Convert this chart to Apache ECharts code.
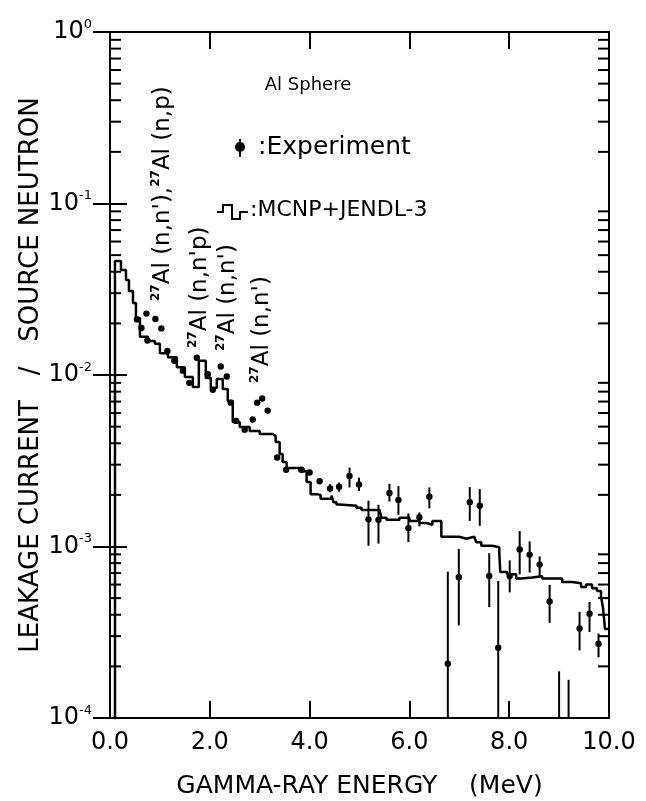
<!DOCTYPE html>
<html><head><meta charset="utf-8">
<script src="https://cdn.jsdelivr.net/npm/echarts@6/dist/echarts.min.js"></script>
<style>html,body{margin:0;padding:0;background:#fff}#c{width:646px;height:801px}</style>
</head><body><div id="c"></div>
<script>
// ---- axis definitions ----
const xMin = 0, xMax = 10, xStep = 2;
const yMin = 1e-4, yMax = 1;
const minorMultipliers = [2, 3, 4, 5, 6, 7, 8, 9];
const minorDecades = [1e-4, 1e-3, 1e-2, 1e-1];

// ---- MCNP+JENDL-3 histogram: left bin edge (MeV) and value ----
const mcnpE = [0.10, 0.10, 0.22, 0.32, 0.38, 0.46, 0.52, 0.60, 0.76, 0.90, 1.00, 1.16, 1.34, 1.50, 1.66, 1.78, 1.92, 2.02, 2.14, 2.26, 2.36, 2.46, 2.60, 2.80, 3.00, 3.26, 3.32, 3.40, 3.46, 3.54, 3.80, 3.94, 4.02, 4.14, 4.22, 4.44, 4.48, 4.54, 4.60, 4.94, 5.04, 5.40, 5.44, 5.54, 5.80, 6.00, 6.20, 6.34, 6.46, 6.64, 7.00, 7.14, 7.30, 7.34, 7.44, 7.66, 7.80, 7.82, 7.96, 8.14, 8.24, 8.46, 8.66, 8.86, 9.06, 9.26, 9.44, 9.54, 9.66, 9.76, 9.84, 9.88, 9.92, 10.0];
const mcnpV = [0.00001, 0.0462, 0.0409, 0.0358, 0.0309, 0.0263, 0.0215, 0.0167, 0.0158, 0.0152, 0.0134, 0.0127, 0.0111, 0.00973, 0.00851, 0.0121, 0.00961, 0.00840, 0.00948, 0.00828, 0.00705, 0.00532, 0.00498, 0.00471, 0.00453, 0.00441, 0.00407, 0.00346, 0.00311, 0.00287, 0.00275, 0.00238, 0.00202, 0.00200, 0.00190, 0.00198, 0.00181, 0.00176, 0.00173, 0.00168, 0.00163, 0.00161, 0.00147, 0.00143, 0.00147, 0.00141, 0.00137, 0.00134, 0.00141, 0.00114, 0.00111, 0.00114, 0.00112, 0.00106, 0.00101, 0.00099, 0.00094, 0.00071, 0.00069, 0.00065, 0.00066, 0.00067, 0.00065, 0.00065, 0.00062, 0.00061, 0.00058, 0.00060, 0.00057, 0.00055, 0.00051, 0.00044, 0.00033, 0.00033];

// ---- Experiment: energy, value, error-bar low / high (null = no bar drawn) ----
const expE = [0.54, 0.63, 0.73, 0.75, 0.91, 1.03, 1.15, 1.29, 1.46, 1.59, 1.74, 1.96, 2.06, 2.22, 2.34, 2.42, 2.53, 2.70, 2.86, 2.95, 3.05, 3.16, 3.35, 3.53, 3.84, 4.00, 4.20, 4.41, 4.59, 4.80, 4.99, 5.18, 5.38, 5.60, 5.78, 5.98, 6.20, 6.40, 6.77, 6.99, 7.21, 7.41, 7.60, 7.78, 8.01, 8.21, 8.41, 8.61, 8.81, 9.00, 9.19, 9.41, 9.61, 9.79];
const expV = [0.0211, 0.0188, 0.0228, 0.0159, 0.0212, 0.0187, 0.0138, 0.0121, 0.0106, 0.0090, 0.0126, 0.0101, 0.0082, 0.0112, 0.0098, 0.0069, 0.0054, 0.0048, 0.0055, 0.0069, 0.0073, 0.0062, 0.0033, 0.0028, 0.0028, 0.0027, 0.0024, 0.00218, 0.00223, 0.00258, 0.00230, 0.00144, 0.00143, 0.00205, 0.00187, 0.00128, 0.00148, 0.00195, 0.000207, 0.000662, 0.00181, 0.00173, 0.000674, 0.000257, 0.000672, 0.000961, 0.000897, 0.000784, 0.000478, 0.00007, 0.00006, 0.000333, 0.000406, 0.000271];
const expLo = [null, null, null, null, null, null, null, null, null, null, null, null, null, null, null, null, null, null, null, null, null, null, null, null, null, null, null, 0.00207, 0.00209, 0.00221, 0.00211, 0.00101, 0.00104, 0.00183, 0.00153, 0.00106, 0.00131, 0.00167, 0.00001, 0.000346, 0.00141, 0.00132, 0.000443, 0.00001, 0.000540, 0.000687, 0.000705, 0.000669, 0.000359, 0.00001, 0.00001, 0.000248, 0.000317, 0.000226];
const expHi = [null, null, null, null, null, null, null, null, null, null, null, null, null, null, null, null, null, null, null, null, null, null, null, null, null, null, null, 0.00231, 0.00236, 0.00288, 0.00252, 0.00185, 0.00175, 0.00232, 0.00225, 0.00156, 0.00158, 0.00221, 0.000713, 0.000968, 0.00222, 0.00216, 0.000914, 0.000629, 0.000830, 0.00123, 0.00107, 0.000875, 0.000598, 0.000187, 0.000167, 0.000416, 0.000475, 0.000311];

// ---- texts ----
const xTitle = 'GAMMA-RAY ENERGY    (MeV)';
const yTitle = 'LEAKAGE CURRENT   /   SOURCE NEUTRON';
const legendTitle = 'Al Sphere';
const legendExp = ':Experiment';
const legendMcnp = ':MCNP+JENDL-3';
const annotations = [
  {parts: [['27', "Al (n,n'),"], ['27', 'Al (n,p)']], x: 163, y: 301},
  {parts: [['27', "Al (n,n'p)"]], x: 200, y: 348},
  {parts: [['27', "Al (n,n')"]], x: 228, y: 351},
  {parts: [['27', "Al (n,n')"]], x: 262, y: 383}
];

const F = 'DejaVu Sans';
const BLACK = '#000';
const minorData = [];
minorDecades.forEach(d => minorMultipliers.forEach(m => minorData.push([0, d * m])));

const chart = echarts.init(document.getElementById('c'), null, {renderer: 'canvas'});

function renderMinor(params, api) {
  const cs = params.coordSys;
  const p = api.coord([api.value(0), api.value(1)]);
  const len = 11;
  return {type: 'group', children: [
    {type: 'line', shape: {x1: cs.x, y1: p[1], x2: cs.x + len, y2: p[1]}, style: {stroke: BLACK, lineWidth: 2}},
    {type: 'line', shape: {x1: cs.x + cs.width - len, y1: p[1], x2: cs.x + cs.width, y2: p[1]}, style: {stroke: BLACK, lineWidth: 2}}
  ]};
}

function renderExp(params, api) {
  const i = params.dataIndex;
  const cs = params.coordSys;
  const top = cs.y, bot = cs.y + cs.height;
  const clampY = y => Math.max(top, Math.min(bot, y));
  const p = api.coord([expE[i], expV[i]]);
  const ch = [];
  if (expLo[i] != null && expHi[i] != null) {
    const a = api.coord([expE[i], expLo[i]]);
    const b = api.coord([expE[i], expHi[i]]);
    ch.push({type: 'line', shape: {x1: p[0], y1: clampY(a[1]), x2: p[0], y2: clampY(b[1])}, style: {stroke: BLACK, lineWidth: 2}});
  }
  if (p[1] <= bot && p[1] >= top) {
    ch.push({type: 'circle', shape: {cx: p[0], cy: p[1], r: 3.2}, style: {fill: BLACK}});
  }
  return {type: 'group', children: ch};
}

const tickStyle = {show: true, inside: true, length: 17, lineStyle: {color: BLACK, width: 2}};

const graphics = [];
annotations.forEach(a => {
  let txt = '';
  a.parts.forEach(p => { txt += '{s|' + p[0] + '}{b|' + p[1] + '}'; });
  graphics.push({
    type: 'text', x: a.x, y: a.y, rotation: Math.PI / 2, z: 10,
    style: {
      text: txt, align: 'left', verticalAlign: 'middle', fill: BLACK,
      fontFamily: F, fontSize: 23,
      rich: {
        s: {fontSize: 12, fontFamily: F, fontWeight: 'bold', fill: BLACK, verticalAlign: 'top', lineHeight: 26},
        b: {fontSize: 23, fontFamily: F, fill: BLACK, lineHeight: 26}
      }
    }
  });
});
graphics.push(
  {type: 'text', x: 308, y: 85, z: 10, style: {text: legendTitle, align: 'center', verticalAlign: 'middle', fontFamily: F, fontSize: 18, fill: BLACK}},
  {type: 'line', z: 10, shape: {x1: 240, y1: 139, x2: 240, y2: 157}, style: {stroke: BLACK, lineWidth: 2}},
  {type: 'circle', z: 10, shape: {cx: 240, cy: 147, r: 5}, style: {fill: BLACK}},
  {type: 'text', x: 258, y: 147, z: 10, style: {text: legendExp, align: 'left', verticalAlign: 'middle', fontFamily: F, fontSize: 25, fill: BLACK}},
  {type: 'polyline', z: 10, shape: {points: [[217, 212], [223, 212], [223, 205], [232, 205], [232, 219], [240, 219], [240, 212], [248, 212]]}, style: {stroke: BLACK, lineWidth: 2, fill: null}},
  {type: 'text', x: 250, y: 210, z: 10, style: {text: legendMcnp, align: 'left', verticalAlign: 'middle', fontFamily: F, fontSize: 22, fill: BLACK}}
);

const option = {
  backgroundColor: '#fff',
  animation: false,
  grid: {left: 110, right: 37, top: 32, bottom: 83, show: true, borderColor: BLACK, borderWidth: 2, backgroundColor: 'transparent', containLabel: false, outerBoundsMode: 'none'},
  xAxis: [
    {
      type: 'value', min: xMin, max: xMax, interval: xStep, position: 'bottom',
      axisLine: {show: false}, axisTick: tickStyle, splitLine: {show: false},
      axisLabel: {color: BLACK, fontFamily: F, fontSize: 24, margin: 13, formatter: v => v.toFixed(1)},
      name: xTitle, nameLocation: 'middle', nameGap: 56, nameMoveOverlap: false,
      nameTextStyle: {color: BLACK, fontFamily: F, fontSize: 25}
    },
    {
      type: 'value', min: xMin, max: xMax, interval: xStep, position: 'top',
      axisLine: {show: false}, axisTick: tickStyle, splitLine: {show: false}, axisLabel: {show: false}
    }
  ],
  yAxis: [
    {
      type: 'log', logBase: 10, min: yMin, max: yMax, position: 'left',
      axisLine: {show: false}, axisTick: tickStyle, splitLine: {show: false}, minorTick: {show: false},
      axisLabel: {
        color: BLACK, fontFamily: F, margin: 18,
        formatter: v => { const e = Math.round(Math.log10(v)); return '{b|10}{s|' + e + '}'; },
        rich: {
          b: {fontSize: 24, fontFamily: F, color: BLACK, lineHeight: 28},
          s: {fontSize: 13, fontFamily: F, color: BLACK, verticalAlign: 'top', lineHeight: 28}
        }
      },
      name: yTitle, nameLocation: 'middle', nameGap: 66, nameRotate: 90, nameMoveOverlap: false,
      nameTextStyle: {color: BLACK, fontFamily: F, fontSize: 26}
    },
    {
      type: 'log', logBase: 10, min: yMin, max: yMax, position: 'right',
      axisLine: {show: false}, axisTick: tickStyle, splitLine: {show: false}, axisLabel: {show: false}
    }
  ],
  series: [
    {
      type: 'custom', name: 'minor ticks', xAxisIndex: 0, yAxisIndex: 0, silent: true,
      renderItem: renderMinor, data: minorData, encode: {x: 0, y: 1}
    },
    {
      type: 'line', name: 'MCNP+JENDL-3', xAxisIndex: 0, yAxisIndex: 0, step: 'end', showSymbol: false, symbol: 'none',
      clip: true, lineStyle: {color: BLACK, width: 2.5}, z: 3,
      data: mcnpE.map((e, i) => [e, mcnpV[i]])
    },
    {
      type: 'custom', name: 'Experiment', xAxisIndex: 0, yAxisIndex: 0, z: 4,
      renderItem: renderExp, data: expE.map((e, i) => [e, expV[i]]), encode: {x: 0, y: 1}
    }
  ],
  graphic: graphics
};
chart.setOption(option);
</script>
</body></html>
